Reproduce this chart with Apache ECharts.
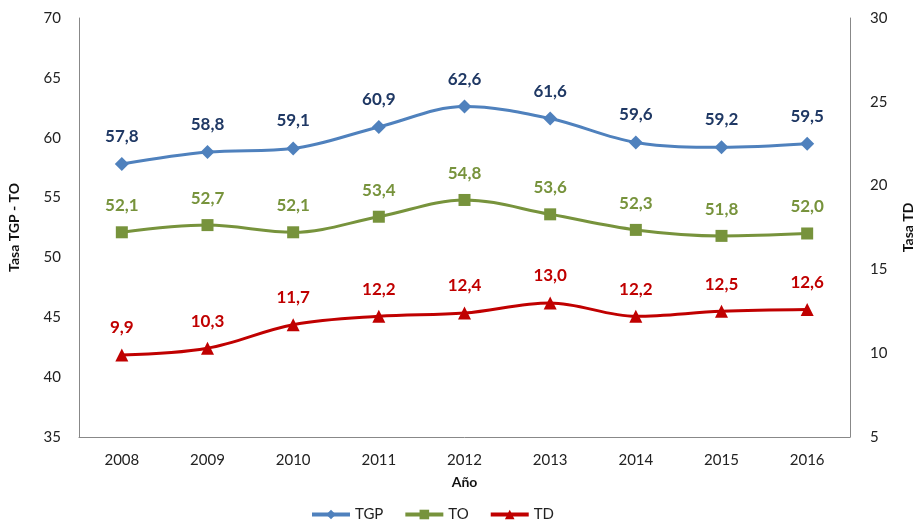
<!DOCTYPE html>
<html>
<head>
<meta charset="utf-8">
<script src="https://cdn.jsdelivr.net/npm/echarts@6/dist/echarts.min.js"></script>
<style>html,body{margin:0;padding:0;background:#fff}#c{width:917px;height:527px}</style>
</head>
<body>
<div id="c"></div>
<script>
const years = ['2008','2009','2010','2011','2012','2013','2014','2015','2016'];
const tgp = [57.8, 58.8, 59.1, 60.9, 62.6, 61.6, 59.6, 59.2, 59.5];
const to = [52.1, 52.7, 52.1, 53.4, 54.8, 53.6, 52.3, 51.8, 52.0];
const td = [9.9, 10.3, 11.7, 12.2, 12.4, 13.0, 12.2, 12.5, 12.6];

const font = 'Lato, "Open Sans", sans-serif';
const fmt = p => p.value.toFixed(1).replace('.', ',');
function lbl(color){
  return {show:true, position:'top', distance:12, formatter:fmt, color:color, fontSize:17, fontWeight:'bold', fontFamily:font};
}
const chart = echarts.init(document.getElementById('c'));
chart.setOption({
  animation:false,
  textStyle:{fontFamily:font},
  grid:{left:79, right:67, top:18, bottom:90, containLabel:false, outerBoundsMode:'none'},
  legend:{bottom:0, left:305, itemGap:20, itemWidth:38, itemHeight:12, textStyle:{fontSize:15, color:'#222', fontFamily:font},
    lineStyle:{width:4},
    data:['TGP','TO','TD']},
  xAxis:{type:'category', data:years, boundaryGap:true,
    name:'Año', nameLocation:'middle', nameGap:38, nameTextStyle:{fontWeight:'bold', fontSize:14, color:'#111'},
    axisLine:{lineStyle:{color:'#888', width:1}}, axisTick:{show:false},
    axisLabel:{fontSize:15, color:'#222', margin:16}},
  yAxis:[
    {type:'value', min:35, max:70, interval:5, position:'left',
      name:'Tasa TGP - TO', nameLocation:'middle', nameGap:58, nameRotate:90,
      nameTextStyle:{fontWeight:'bold', fontSize:14, color:'#111'},
      axisLine:{show:true, lineStyle:{color:'#888'}}, axisTick:{show:false}, splitLine:{show:false},
      axisLabel:{fontSize:15, color:'#222', margin:18}},
    {type:'value', min:5, max:30, interval:5, position:'right',
      name:'Tasa TD', nameLocation:'middle', nameGap:51, nameRotate:90,
      nameTextStyle:{fontWeight:'bold', fontSize:14, color:'#111'},
      axisLine:{show:true, lineStyle:{color:'#888'}}, axisTick:{show:false}, splitLine:{show:false},
      axisLabel:{fontSize:15, color:'#222', margin:20}}
  ],
  series:[
    {name:'TGP', type:'line', data:tgp, yAxisIndex:0, smooth:0.35, symbol:'diamond', symbolSize:14,
      lineStyle:{width:3, color:'#4F81BD'}, itemStyle:{color:'#4F81BD'}, label:lbl('#1F3864')},
    {name:'TO', type:'line', data:to, yAxisIndex:0, smooth:0.35, symbol:'rect', symbolSize:12,
      lineStyle:{width:3, color:'#77933C'}, itemStyle:{color:'#77933C'}, label:lbl('#77933C')},
    {name:'TD', type:'line', data:td, yAxisIndex:1, smooth:0.35, symbol:'triangle', symbolSize:13,
      lineStyle:{width:3, color:'#C00000'}, itemStyle:{color:'#C00000'}, label:lbl('#C00000')}
  ]
});
</script>
</body>
</html>
